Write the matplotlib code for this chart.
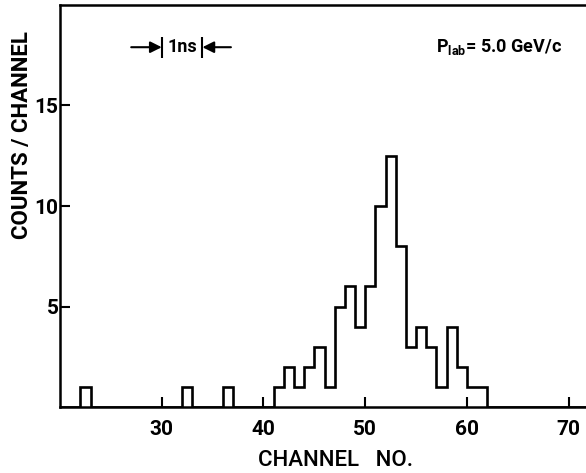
#!/usr/bin/env python3
"""Time-of-flight spectrum, counts per channel at p_lab = 5.0 GeV/c."""
import numpy as np
import matplotlib
matplotlib.use("Agg")
import matplotlib.pyplot as plt

# channel -> counts (channels not listed are empty)
channels = [22, 32, 36, 41, 42, 43, 44, 45, 46, 47, 48, 49, 50,
            51, 52, 53, 54, 55, 56, 57, 58, 59, 60, 61]
counts = [1, 1, 1, 1, 2, 1, 2, 3, 1, 5, 6, 4, 6,
          10, 12.5, 8, 3, 4, 3, 1, 4, 2, 1, 1]
xticks = [30, 40, 50, 60, 70]
yticks = [5, 10, 15]

plt.rcParams["font.family"] = ["Roboto", "DejaVu Sans"]
plt.rcParams["mathtext.fontset"] = "custom"
plt.rcParams["mathtext.rm"] = "Roboto"
plt.rcParams["mathtext.bf"] = "Roboto:bold"


def main():
    edges = np.arange(20, 73)
    values = np.zeros(len(edges) - 1)
    for ch, c in zip(channels, counts):
        values[ch - 20] = c

    fig = plt.figure(figsize=(5.86, 4.73), dpi=100)
    ax = fig.add_axes([60 / 586, 1 - 407 / 473, 1 - 60 / 586, 402 / 473])
    ax.stairs(values, edges, color="black", linewidth=1.9, baseline=0)

    ax.set_xlim(20, 71.7)
    ax.set_ylim(0, 20)
    ax.spines["right"].set_visible(False)
    for s in ("left", "top", "bottom"):
        ax.spines[s].set_linewidth(1.8)
    ax.set_xticks(xticks)
    ax.set_yticks(yticks)
    ax.tick_params(axis="both", direction="in", length=7, width=1.5,
                   labelsize=15)
    ax.tick_params(axis="x", pad=9)
    ax.tick_params(axis="y", pad=1)
    for lab in ax.get_xticklabels() + ax.get_yticklabels():
        lab.set_fontweight("bold")

    fig.text(22 / 586, 1 - 135 / 473, "COUNTS / CHANNEL", rotation=90,
             ha="center", va="center", fontsize=16, fontweight="bold")
    fig.text(335 / 586, 1 - 460 / 473, "CHANNEL   NO.",
             ha="center", va="center", fontsize=16, fontweight="medium")

    # 1 ns marker
    ykey = 17.9
    ax.annotate("", xy=(30, ykey), xytext=(27, ykey),
                arrowprops=dict(arrowstyle="-|>", color="black", lw=1.5,
                                mutation_scale=17, shrinkA=0, shrinkB=0))
    ax.annotate("", xy=(34, ykey), xytext=(36.8, ykey),
                arrowprops=dict(arrowstyle="-|>", color="black", lw=1.5,
                                mutation_scale=17, shrinkA=0, shrinkB=0))
    ax.vlines([30, 34], ykey - 0.55, ykey + 0.5, color="black", lw=1.5)
    ax.text(32, ykey, "1ns", ha="center", va="center",
            fontsize=13, fontweight="bold")

    ax.text(57, ykey, r"$\mathbf{P}_{\mathbf{lab}}$= 5.0 GeV/c",
            ha="left", va="center", fontsize=13, fontweight="bold")

    fig.savefig("out.png", dpi=100)


if __name__ == "__main__":
    main()
